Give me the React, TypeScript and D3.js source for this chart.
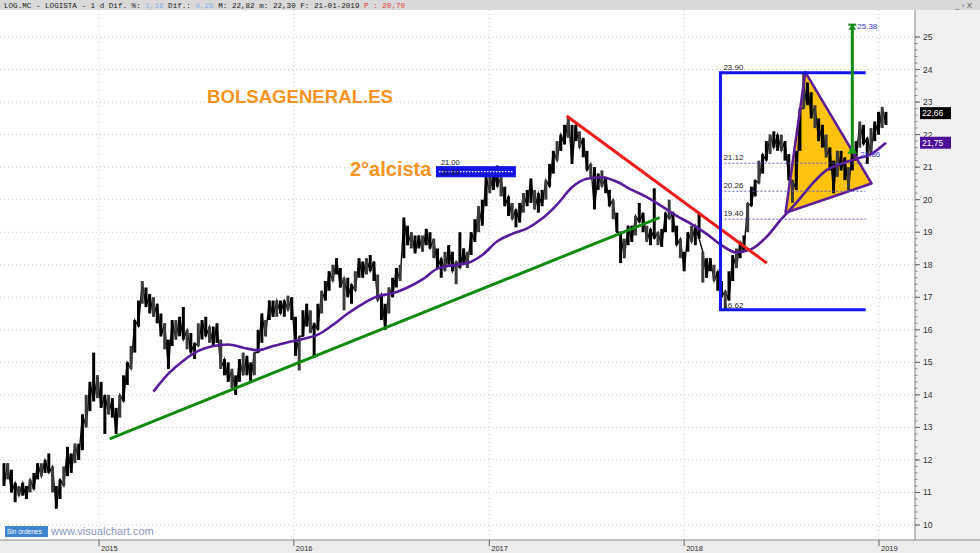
import React from 'react';
import * as d3 from 'd3';

// weekly bars, first week starting 7 Jul 2014
const START = '2014-07-07';

const LOWS = [
  11.2, 11.4, 11.0, 10.7, 10.9, 10.9, 10.8, 11.0, 11.1, 11.4,
  11.5, 11.6, 11.6, 11.0, 10.5, 10.8, 11.2, 11.5, 11.6, 11.9,
  12.0, 12.3, 13.0, 13.5, 13.8, 13.9, 13.6, 12.8, 13.4, 13.3,
  12.8, 13.3, 13.8, 14.3, 14.8, 15.3, 16.1, 16.8, 16.7, 16.5,
  16.4, 16.2, 15.8, 15.4, 14.8, 15.5, 15.7, 15.8, 15.7, 15.4,
  15.3, 15.1, 15.5, 15.7, 15.8, 15.6, 15.5, 15.6, 14.8, 14.6,
  14.4, 14.2, 14.0, 14.4, 14.6, 14.6, 14.4, 14.6, 15.3, 15.6,
  15.8, 16.3, 16.4, 16.4, 16.5, 16.4, 16.6, 16.3, 15.2, 14.75,
  15.8, 16.1, 15.9, 15.15, 16.0, 16.5, 16.9, 17.2, 17.5, 17.7,
  17.3, 16.6, 17.0, 16.8, 17.2, 17.6, 17.6, 17.7, 17.8, 17.5,
  16.9, 16.3, 16.0, 16.5, 17.0, 17.3, 17.5, 18.2, 18.6, 18.5,
  18.35, 18.5, 18.4, 18.6, 18.5, 18.2, 17.9, 17.6, 17.8, 18.0,
  17.8, 17.4, 17.9, 18.0, 17.9, 18.3, 18.7, 19.0, 19.2, 19.8,
  20.2, 20.3, 20.4, 20.1, 19.8, 19.5, 19.4, 19.15, 19.3, 19.6,
  19.8, 19.9, 19.7, 19.6, 19.8, 20.0, 20.4, 20.8, 21.2, 21.5,
  21.7, 21.9, 21.1, 21.8, 21.6, 21.3, 20.9, 20.7, 19.7, 20.3,
  20.4, 20.2, 19.8, 19.4, 19.0, 18.05, 18.2, 18.6, 18.7, 18.9,
  19.3, 19.0, 18.7, 18.6, 18.8, 18.6, 18.55, 19.0, 19.4, 19.0,
  18.6, 18.2, 17.8, 18.4, 18.7, 18.6, 18.8, 17.45, 17.6, 17.8,
  17.5, 17.2, 17.0, 16.62, 16.9, 17.5, 17.9, 18.2, 18.4, 19.0,
  19.8, 20.1, 20.5, 20.8, 21.2, 21.4, 21.6, 21.5, 21.5, 21.2,
  20.6, 19.9, 20.3, 21.5, 22.8, 22.9, 22.5, 22.2, 21.8, 21.6,
  21.3, 20.9, 20.2, 20.7, 20.9, 20.6, 20.3, 20.9, 21.2, 21.6,
  21.7, 21.1, 21.4, 21.8, 22.0, 22.2, 22.3,
];

const HIGHS = [
  11.9, 11.9, 11.7, 11.3, 11.2, 11.3, 11.2, 11.4, 11.6, 11.9,
  11.9, 12.0, 12.2, 11.8, 11.2, 11.4, 11.8, 12.4, 12.2, 12.5,
  12.5, 13.4, 14.0, 14.4, 15.3, 14.6, 14.4, 14.0, 14.0, 13.9,
  13.6, 14.0, 14.6, 15.0, 15.5, 16.3, 16.9, 17.5, 17.3, 17.1,
  17.0, 16.8, 16.5, 16.2, 15.7, 16.3, 16.3, 16.4, 16.7, 16.0,
  15.9, 15.6, 16.2, 16.3, 16.4, 16.1, 16.1, 16.2, 15.7, 15.1,
  15.0, 14.8, 14.6, 15.1, 15.3, 15.2, 15.0, 15.3, 16.0, 16.5,
  16.3, 16.9, 16.9, 16.9, 16.9, 16.9, 17.05, 17.0, 16.4, 15.8,
  16.6, 16.8, 16.6, 16.2, 16.8, 17.2, 17.5, 17.8, 18.0, 18.2,
  17.9, 17.6, 17.6, 17.4, 17.8, 18.2, 18.1, 18.2, 18.3, 18.1,
  17.7, 17.1, 16.8, 17.3, 17.6, 17.9, 18.0, 19.45, 19.2, 19.0,
  18.9, 18.9, 18.9, 19.1, 19.0, 18.8, 18.5, 18.2, 18.4, 18.6,
  18.4, 18.1, 19.0, 18.5, 18.4, 19.0, 19.4, 19.8, 20.0, 20.7,
  20.9, 20.9, 21.05, 20.7, 20.4, 20.1, 19.9, 19.7, 19.9, 20.2,
  20.3, 20.65, 20.3, 20.2, 20.3, 20.6, 21.1, 21.5, 21.8, 22.0,
  22.3, 22.55, 22.3, 22.3, 22.1, 21.9, 21.5, 21.1, 21.0, 20.8,
  20.9, 20.7, 20.3, 20.0, 19.6, 19.0, 18.8, 19.2, 19.2, 19.5,
  19.9, 19.6, 19.2, 19.1, 20.35, 19.0, 19.1, 19.6, 20.0, 19.6,
  19.2, 18.8, 18.4, 19.0, 19.2, 19.2, 19.6, 18.4, 18.2, 18.2,
  18.0, 17.8, 17.5, 17.2, 17.8, 18.3, 18.5, 18.7, 18.9, 19.9,
  20.4, 20.6, 21.2, 21.4, 21.8, 22.0, 22.1, 22.0, 22.0, 21.8,
  21.4, 20.6, 21.5, 22.8, 23.9, 23.6, 23.3, 22.9, 22.5, 22.3,
  22.0, 21.6, 21.2, 21.5, 21.5, 21.3, 21.0, 21.6, 21.8, 22.4,
  22.3, 21.9, 22.2, 22.4, 22.7, 22.85, 22.7,
];

// 200 session average, one reading every 4 weeks from week 40
const MA_FIRST_WEEK = 40;
const MA_STEP = 4;
const MA200 = [
  14.1, 14.65, 15.05, 15.35, 15.5, 15.55, 15.45, 15.37, 15.5, 15.62,
  15.72, 15.85, 16.15, 16.5, 16.8, 17.03, 17.12, 17.3, 17.55, 17.88,
  17.98, 18.05, 18.3, 18.72, 18.95, 19.12, 19.42, 19.85, 20.38, 20.64,
  20.69, 20.55, 20.3, 20.08, 19.8, 19.5, 19.25, 18.95, 18.6, 18.38,
  18.48, 18.85, 19.4, 19.9, 20.45, 20.9, 21.1, 21.25, 21.4, 21.75,
];

const YEARS = [2015, 2016, 2017, 2018, 2019];
const PRICE_TICKS = [10, 11, 12, 13, 14, 15, 16, 17, 18, 19, 20, 21, 22, 23, 24, 25];

const SUPPORT: [string, number][] = [['2015-01-21', 12.65], ['2017-11-16', 19.45]];
const RESISTANCE: [string, number][] = [['2017-05-26', 22.57], ['2018-06-05', 18.05]];
const FIB_FROM = '2018-03-10';
const FIB_TO = '2018-12-07';
const FIB_HIGH = 23.9;
const FIB_LOW = 16.62;
const FIB_LEVELS = [21.12, 20.26, 19.4];
const TRIANGLE: [string, number][] = [['2018-08-16', 23.92], ['2018-07-10', 19.6], ['2018-12-18', 20.5]];
const TARGET_DATE = '2018-11-12';
const TARGET_FROM = 21.5;
const TARGET_TO = 25.38;
const ZONE_FROM = '2016-09-25';
const ZONE_TO = '2017-02-18';
const ZONE_TOP = 21.0;
const ZONE_BOTTOM = 20.72;

const LAST_PRICE = 22.66;
const LAST_MA = 21.75;

const parse = d3.timeParse('%Y-%m-%d');
const fmt = (v: number) => v.toFixed(2);
const fmtComma = (v: number) => v.toFixed(2).replace('.', ',');

const W = 980;
const H = 553;
const PLOT_RIGHT = 915;
const PLOT_TOP = 10;
const PLOT_BOTTOM = 540;

const App: React.FC = () => {
  const x = d3.scaleTime()
    .domain([new Date(2015, 0, 1), new Date(2019, 0, 1)])
    .range([99, 879]);
  const y = d3.scaleLinear().domain([10, 25]).range([525, 37]);

  const start = parse(START) as Date;
  const weekX = (i: number) => x(d3.timeDay.offset(start, i * 7));
  const dx = (s: string) => x(parse(s) as Date);

  // thin line joining the weekly bars so the band reads as continuous
  const joinLine = d3.line<number>()
    .x((_, i) => weekX(i))
    .y((d, i) => (i % 2 === 0 ? y(d) : y(HIGHS[i])));

  const maLine = d3.line<number>()
    .x((_, i) => weekX(MA_FIRST_WEEK + i * MA_STEP))
    .y(d => y(d))
    .curve(d3.curveMonotoneX);

  const minorTicks = d3.range(10, 25.01, 0.2);
  const font = 'Liberation Sans, Arial, sans-serif';

  const fx1 = dx(FIB_FROM);
  const fx2 = dx(FIB_TO);
  const tx = dx(TARGET_DATE);
  const triPts = TRIANGLE.map(([d, v]) => `${dx(d)},${y(v)}`).join(' ');

  return (
    <svg width={W} height={H} style={{ position: 'absolute', left: 0, top: 0, display: 'block' }}
      fontFamily={font}>
      <rect width={W} height={H} fill="#ffffff" />

      {/* side panels */}
      <rect x={PLOT_RIGHT} y={PLOT_TOP} width={W - PLOT_RIGHT} height={PLOT_BOTTOM - PLOT_TOP} fill="#f1f1f1" />
      <rect x={0} y={PLOT_BOTTOM} width={W} height={H - PLOT_BOTTOM} fill="#ececec" />

      {/* grid */}
      {PRICE_TICKS.map(t => (
        <line key={'h' + t} x1={0} x2={PLOT_RIGHT} y1={y(t)} y2={y(t)}
          stroke="#c8c8c8" strokeWidth={1} strokeDasharray="1,3" />
      ))}
      {YEARS.map(yr => (
        <line key={'v' + yr} x1={x(new Date(yr, 0, 1))} x2={x(new Date(yr, 0, 1))} y1={PLOT_TOP} y2={PLOT_BOTTOM}
          stroke="#c8c8c8" strokeWidth={1} strokeDasharray="1,3" />
      ))}

      {/* triangle fill under the bars */}
      <polygon points={triPts} fill="#ffc20f" />

      {/* price bars */}
      <path d={joinLine(LOWS) || ''} fill="none" stroke="#111" strokeWidth={1.4} />
      {LOWS.map((lo, i) => (
        <line key={'b' + i} x1={weekX(i)} x2={weekX(i)} y1={y(HIGHS[i])} y2={y(lo)}
          stroke={i % 3 === 1 ? '#3c3c3c' : '#000'} strokeWidth={3} />
      ))}

      {/* moving average */}
      <path d={maLine(MA200) || ''} fill="none" stroke="#561c99" strokeWidth={2.6} />

      {/* trend lines */}
      <line x1={dx(SUPPORT[0][0])} y1={y(SUPPORT[0][1])} x2={dx(SUPPORT[1][0])} y2={y(SUPPORT[1][1])}
        stroke="#128a12" strokeWidth={3} />
      <line x1={dx(RESISTANCE[0][0])} y1={y(RESISTANCE[0][1])} x2={dx(RESISTANCE[1][0])} y2={y(RESISTANCE[1][1])}
        stroke="#f01a1a" strokeWidth={3} />

      {/* triangle outline */}
      <polygon points={triPts} fill="none" stroke="#5e1e96" strokeWidth={2.6} strokeLinejoin="round" />

      {/* fibonacci box */}
      {FIB_LEVELS.map(l => (
        <g key={'f' + l}>
          <line x1={fx1} x2={fx2} y1={y(l)} y2={y(l)} stroke="#5a5ad0" strokeWidth={1} strokeDasharray="2,2" />
          <text x={fx1 + 3} y={y(l) - 3} fontSize={8} fill="#222">{fmt(l)}</text>
        </g>
      ))}
      <line x1={fx1} x2={fx2} y1={y(FIB_HIGH)} y2={y(FIB_HIGH)} stroke="#1414f0" strokeWidth={3} />
      <line x1={fx1} x2={fx2} y1={y(FIB_LOW)} y2={y(FIB_LOW)} stroke="#1414f0" strokeWidth={3} />
      <line x1={fx1} x2={fx1} y1={y(FIB_HIGH) - 1.5} y2={y(FIB_LOW) + 1.5} stroke="#1414f0" strokeWidth={3} />
      <text x={fx1 + 3} y={y(FIB_HIGH) - 3} fontSize={8} fill="#222">{fmt(FIB_HIGH)}</text>
      <text x={fx1 + 3} y={y(FIB_LOW) - 2} fontSize={8} fill="#222">{fmt(FIB_LOW)}</text>

      {/* target arrow */}
      <line x1={tx} x2={tx} y1={y(TARGET_FROM)} y2={y(TARGET_TO)} stroke="#128a12" strokeWidth={3} />
      <line x1={tx - 4} x2={tx + 4} y1={y(TARGET_TO)} y2={y(TARGET_TO)} stroke="#128a12" strokeWidth={2} />
      <path d={`M${tx - 4},${y(TARGET_TO) + 5} L${tx},${y(TARGET_TO)} L${tx + 4},${y(TARGET_TO) + 5} Z`} fill="#128a12" />
      <path d={`M${tx - 5},${y(TARGET_FROM) + 3} L${tx},${y(TARGET_FROM) - 5} L${tx + 5},${y(TARGET_FROM) + 3} Z`} fill="#16a016" />
      <text x={tx + 5} y={y(TARGET_TO) + 4} fontSize={8} fill="#3a3ad0">{fmt(TARGET_TO)}</text>
      <text x={tx + 8} y={y(TARGET_FROM) + 6} fontSize={8} fill="#3a3ad0">{fmt(21.86)}</text>

      {/* resistance zone */}
      <rect x={dx(ZONE_FROM)} y={y(ZONE_TOP)} width={dx(ZONE_TO) - dx(ZONE_FROM)} height={y(ZONE_BOTTOM) - y(ZONE_TOP)}
        fill="#1414e6" stroke="#1414e6" strokeWidth={2} />
      <line x1={dx(ZONE_FROM) + 2} x2={dx(ZONE_TO) - 2} y1={y((ZONE_TOP + ZONE_BOTTOM) / 2)} y2={y((ZONE_TOP + ZONE_BOTTOM) / 2)}
        stroke="#ffffff" strokeWidth={1.2} strokeDasharray="1.5,1.5" />
      <text x={dx(ZONE_FROM) + 4} y={y(ZONE_TOP) - 2} fontSize={7.5} fill="#111">{fmt(ZONE_TOP)}</text>
      <text x={dx(ZONE_FROM) + 4} y={y(ZONE_BOTTOM) - 1} fontSize={7.5} fill="#111">20.84</text>

      {/* titles */}
      <text x={207} y={103} fontSize={18.6} fontWeight="bold" fill="#f7931e">BOLSAGENERAL.ES</text>
      <text x={350} y={176} fontSize={20} fontWeight="bold" fill="#f7931e">2°alcista</text>

      {/* right axis */}
      <line x1={PLOT_RIGHT} x2={PLOT_RIGHT} y1={PLOT_TOP} y2={PLOT_BOTTOM} stroke="#8a8a8a" />
      {minorTicks.map(t => (
        <line key={'m' + t.toFixed(1)} x1={PLOT_RIGHT} x2={PLOT_RIGHT + 2.5} y1={y(t)} y2={y(t)} stroke="#888" />
      ))}
      {PRICE_TICKS.map(t => (
        <g key={'t' + t}>
          <line x1={PLOT_RIGHT} x2={PLOT_RIGHT + 5} y1={y(t)} y2={y(t)} stroke="#666" />
          <text x={PLOT_RIGHT + 8} y={y(t) + 3} fontSize={8.5} fill="#333">{t}</text>
        </g>
      ))}
      <rect x={PLOT_RIGHT + 5} y={y(LAST_PRICE) - 6} width={31} height={12} fill="#000" />
      <text x={PLOT_RIGHT + 7} y={y(LAST_PRICE) + 3} fontSize={8.5} fill="#fff">{fmtComma(LAST_PRICE)}</text>
      <rect x={PLOT_RIGHT + 5} y={y(LAST_MA) - 6} width={31} height={12} fill="#4d0f99" />
      <text x={PLOT_RIGHT + 7} y={y(LAST_MA) + 3} fontSize={8.5} fill="#fff">{fmtComma(LAST_MA)}</text>

      {/* bottom axis */}
      <line x1={0} x2={W} y1={PLOT_BOTTOM} y2={PLOT_BOTTOM} stroke="#8a8a8a" />
      {YEARS.map(yr => (
        <g key={'y' + yr}>
          <line x1={x(new Date(yr, 0, 1))} x2={x(new Date(yr, 0, 1))} y1={PLOT_BOTTOM} y2={PLOT_BOTTOM + 6} stroke="#666" />
          <text x={x(new Date(yr, 0, 1)) + 2} y={551} fontSize={7.5} fill="#333">{yr}</text>
        </g>
      ))}

      {/* footer marks */}
      <rect x={5} y={526} width={43} height={11} fill="#3f86d0" />
      <text x={7} y={534} fontSize={6.5} fill="#fff">Sin órdenes</text>
      <text x={51} y={535} fontSize={11} fill="#8795c6">www.visualchart.com</text>

      {/* header */}
      <rect x={0} y={0} width={W} height={PLOT_TOP} fill="#d9d9d9" />
      <text x={4} y={7.5} fontSize={7.6} fontFamily="Liberation Mono, monospace" fill="#222">
        LOG.MC - LOGISTA -  1 d Dif. %: <tspan fill="#8fb0e0">1,16</tspan> Dif.: <tspan fill="#8fb0e0">0,26</tspan> M: 22,82 m: 22,30 F: 21-01-2019 <tspan fill="#e23a3a">P : 20,70</tspan>
      </text>
      <text x={955} y={7.5} fontSize={8} fill="#555">_ ▫ X</text>
    </svg>
  );
};

export default App;
